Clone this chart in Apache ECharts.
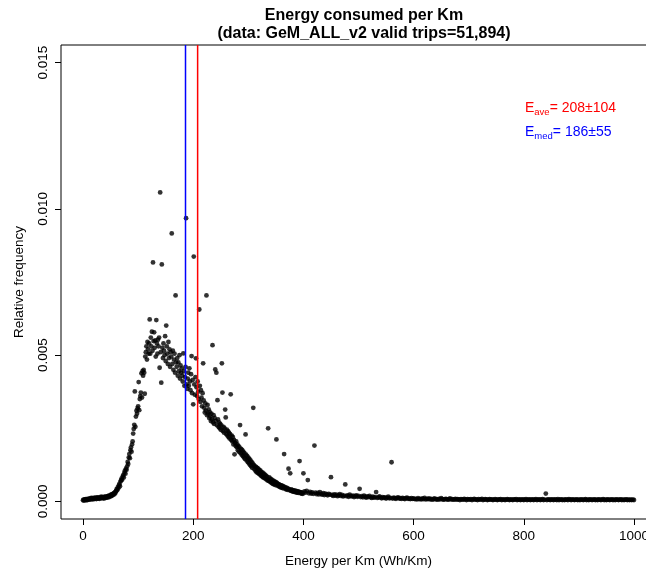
<!DOCTYPE html>
<html>
<head>
<meta charset="utf-8">
<script src="https://cdn.jsdelivr.net/npm/echarts@6/dist/echarts.min.js"></script>
<style>html,body{margin:0;padding:0;background:#fff}#c{width:646px;height:572px}</style>
</head>
<body>
<div id="c"></div>
<script>
// Relative frequency (units of 1e-5) per 1 Wh/Km bin, 0..399
const freqLow = [
4,6,3,7,5,8,6,4,9,7,
8,6,10,7,9,12,8,11,7,10,
12,9,13,10,8,12,14,10,13,11,
9,14,12,16,11,13,15,12,10,16,
14,12,17,15,13,18,16,20,15,19,
22,18,24,20,26,23,28,25,32,30,
36,42,38,48,45,55,60,52,68,72,
78,74,85,90,82,98,105,95,112,108,
120,135,128,150,162,148,175,185,170,195,
205,232,248,262,376,255,290,310,300,318,
325,408,312,350,360,372,438,355,445,430,
450,440,368,495,510,530,485,545,520,505,
540,622,505,560,530,580,515,817,548,578,
525,550,495,620,540,505,553,530,560,457,
1056,510,406,810,525,490,540,515,500,565,
480,601,530,505,470,545,490,520,460,510,
495,916,470,515,450,485,505,440,704,475,
460,490,430,475,445,500,420,465,440,455,
430,410,506,445,395,425,460,968,400,385,
420,440,395,455,410,380,435,497,370,415,
332,837,400,365,425,489,390,360,410,375,
350,656,395,340,380,355,325,370,472,345,
320,304,335,310,704,295,330,300,315,285,
305,290,275,300,280,534,270,295,265,285,
451,275,440,260,346,280,255,270,250,265,
245,260,472,372,240,255,235,250,314,287,
230,245,225,240,220,235,215,230,366,210,
225,205,220,195,210,161,200,190,205,185,
195,175,190,170,185,261,165,180,160,175,
155,170,150,165,145,229,160,140,155,135,
150,130,145,125,140,120,135,115,130,320,
125,110,120,105,118,100,115,98,112,95,
108,92,105,88,100,85,98,82,95,80,
92,78,88,75,85,72,250,70,82,68,
78,65,75,62,72,60,70,58,68,56,
66,212,63,54,60,52,58,50,56,48,
55,47,53,45,51,162,49,43,47,41,
46,40,44,112,42,38,96,37,41,35,
39,34,38,33,37,32,36,31,35,30,
34,29,33,138,32,28,31,27,30,26
];
// Relative frequency (units of 1e-5), every 2 Wh/Km, 400..1000
const freqTail = [
96,34,30,36,73,28,33,27,31,26,191,30,25,29,24,32,26,23,28,22,27,24,21,26,23,
83,22,19,24,20,23,18,21,25,19,22,17,20,58,18,21,16,23,19,17,20,15,18,21,16,19,43,15,18,14,20,16,13,17,15,19,14,12,16,13,15,32,12,14,17,
13,11,15,12,14,10,13,16,11,12,134,10,13,11,9,12,14,10,11,9,12,10,8,11,13,9,10,8,11,9,
10,8,9,7,11,8,9,7,10,8,12,7,9,8,10,7,9,6,8,10,7,8,6,9,7,11,8,6,7,9,8,6,7,10,7,8,6,7,9,6,8,7,5,8,7,6,9,7,5,8,7,
6,8,5,7,9,6,7,5,8,6,7,9,5,6,8,7,5,6,8,6,7,5,6,8,6,
5,7,6,8,5,6,7,5,6,8,6,5,7,6,5,7,6,8,5,6,7,5,6,7,5,
6,8,5,6,7,5,6,7,5,6,8,5,6,7,5,6,8,5,6,27,5,7,6,5,7,
6,5,7,6,5,8,5,6,7,5,6,5,7,6,5,8,6,5,7,6,5,6,7,5,6,
5,7,6,5,6,8,5,6,5,7,6,5,6,7,5,6,5,7,6,5,6,8,5,6,5,
7,6,5,6,7,5,6,5,7,6,5,6,7,5,6,5,6,7,5,6,5,6,5,6,5
];
const xTicks = [0, 200, 400, 600, 800, 1000];
const yTicks = [0, 0.005, 0.010, 0.015];
const meanEnergy = 208, meanSd = 104;
const medianEnergy = 186, medianSd = 55;

const points = [];
freqLow.forEach((v, i) => points.push([i, v * 1e-5]));
freqTail.forEach((v, i) => points.push([400 + 2 * i, v * 1e-5]));

const yMin = -0.0006, yMax = 0.0156;
const FONT = '"Liberation Sans", Arial, sans-serif';

const chart = echarts.init(document.getElementById('c'), null, {renderer: 'canvas'});
chart.setOption({
  animation: false,
  backgroundColor: '#fff',
  title: {
    text: 'Energy consumed per Km\n(data: GeM_ALL_v2 valid trips=51,894)',
    left: 359, top: 2, textAlign: 'center',
    textStyle: {fontFamily: FONT, fontSize: 16, fontWeight: 'bold', color: '#000', lineHeight: 18}
  },
  grid: {left: 61, top: 45, width: 595, bottom: 53, outerBoundsMode: 'none', containLabel: false,
    show: true, borderColor: '#000', borderWidth: 1, backgroundColor: 'transparent'},
  xAxis: {
    type: 'value', min: -40, max: 1040,
    name: 'Energy per Km (Wh/Km)', nameLocation: 'middle', nameGap: 35,
    nameTextStyle: {fontFamily: FONT, fontSize: 13.5, color: '#000'},
    axisLine: {show: false, onZero: false},
    axisTick: {show: true, customValues: xTicks, length: 6, lineStyle: {color: '#000'}},
    axisLabel: {customValues: xTicks, fontFamily: FONT, fontSize: 13.5, color: '#000', margin: 10,
      formatter: v => String(v)},
    splitLine: {show: false}
  },
  yAxis: {
    type: 'value', min: yMin, max: yMax,
    name: 'Relative frequency', nameLocation: 'middle', nameGap: 35, nameRotate: 90,
    nameTextStyle: {fontFamily: FONT, fontSize: 13.5, color: '#000'},
    axisLine: {show: false, onZero: false},
    axisTick: {show: true, customValues: yTicks, length: 6, lineStyle: {color: '#000'}},
    axisLabel: {customValues: yTicks, rotate: 90, fontFamily: FONT, fontSize: 13.5, color: '#000', margin: 11,
      formatter: v => v.toFixed(3)},
    splitLine: {show: false}
  },
  series: [
    {type: 'scatter', data: points, symbol: 'circle', symbolSize: 4.8,
     itemStyle: {color: '#000'}, z: 3},
    {type: 'line', data: [[medianEnergy, yMin], [medianEnergy, yMax]], symbol: 'none',
     lineStyle: {color: '#0000ff', width: 1.5}, z: 4},
    {type: 'line', data: [[meanEnergy, yMin], [meanEnergy, yMax]], symbol: 'none',
     lineStyle: {color: '#ff0000', width: 1.5}, z: 4}
  ],
  graphic: [
    {type: 'text', left: 525, top: 101, z: 10, style: {
      text: '{e|E}{s|ave}{e|= ' + meanEnergy + '±' + meanSd + '}',
      rich: {e: {fontFamily: FONT, fontSize: 14, fill: '#ff0000', lineHeight: 17, verticalAlign: 'middle'},
             s: {fontFamily: FONT, fontSize: 9.5, fill: '#ff0000', lineHeight: 17, verticalAlign: 'bottom', padding: [6, 0, 0, 0]}}
    }},
    {type: 'text', left: 525, top: 125, z: 10, style: {
      text: '{e|E}{s|med}{e|= ' + medianEnergy + '±' + medianSd + '}',
      rich: {e: {fontFamily: FONT, fontSize: 14, fill: '#0000ff', lineHeight: 17, verticalAlign: 'middle'},
             s: {fontFamily: FONT, fontSize: 9.5, fill: '#0000ff', lineHeight: 17, verticalAlign: 'bottom', padding: [6, 0, 0, 0]}}
    }}
  ]
});
</script>
</body>
</html>
